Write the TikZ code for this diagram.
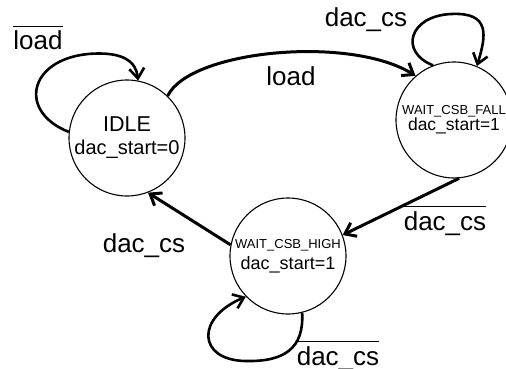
\documentclass[tikz,border=0pt]{standalone}
\usepackage{fontspec}
\setmainfont{Liberation Sans}
\usetikzlibrary{arrows.meta}

% signal with a bar over it
\newcommand{\notsig}[1]{\vbox{\hrule height 1.2pt\kern4pt\hbox{#1}}}

\begin{document}
\begin{tikzpicture}[x=1pt,y=-1pt,
    fsmstate/.style={draw, circle, line width=1.1pt, minimum size=116pt,
                     inner sep=0pt, align=center},
    trans/.style={line width=3pt, -{Straight Barb[length=10pt,width=15pt]}},
    selfloop/.style={line width=2.6pt, -{Straight Barb[length=10pt,width=15pt]}},
    cond/.style={font=\fontsize{26}{26}\selectfont, anchor=base, inner sep=0pt}]
  \useasboundingbox (0,0) rectangle (506,369);

  % states
  \node[fsmstate, font=\fontsize{20}{23}\selectfont] (idle) at (127,138)
    {\fontsize{21.5}{23}\selectfont IDLE\\ dac\_start=0};
  \node[fsmstate, font=\fontsize{17.5}{16}\selectfont] (fall) at (454,120)
    {\fontsize{13}{16}\selectfont WAIT\_CSB\_FALL\\ dac\_start=1};
  \node[fsmstate, font=\fontsize{18}{21}\selectfont] (high) at (288,256)
    {\fontsize{13}{21}\selectfont WAIT\_CSB\_HIGH\\ dac\_start=1};

  % transitions
  \draw[trans] (idle.46) .. controls (190,50) and (350,35) .. (fall.131);
  \draw[trans] (fall.-85) -- (high.21);
  \draw[trans] (high.169) -- (idle.-69);

  % self loops
  \draw[selfloop] (idle.174) .. controls (18,112) and (28,60) .. (88,54)
    .. controls (124,51) and (136,62) .. (idle.79);
  \draw[selfloop] (fall.111) .. controls (399,52) and (409,16) .. (451,14)
    .. controls (491,12) and (486,36) .. (fall.67);
  \draw[selfloop] (high.-76) .. controls (304,348) and (285,362) .. (245,361)
    .. controls (198,360) and (195,318) .. (high.224);

  % conditions
  \node[cond] (notload) at (38,50) {\notsig{load}};
  \node[cond] (csfall) at (366,27) {dac\_cs};
  \node[cond] (loadlbl) at (291,85) {load};
  \node[cond] (notcsfall) at (445,230) {\notsig{dac\_cs}};
  \node[cond] (cshigh) at (144,252) {dac\_cs};
  \node[cond] (notcshigh) at (338,365) {\notsig{dac\_cs}};
\end{tikzpicture}
\end{document}
